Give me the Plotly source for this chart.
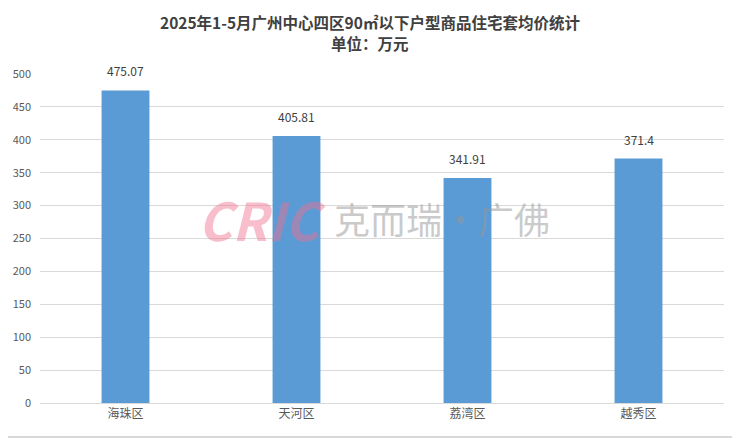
import plotly.graph_objects as go

districts = ["海珠区", "天河区", "荔湾区", "越秀区"]
avg_price = [475.07, 405.81, 341.91, 371.4]
value_labels = ["475.07", "405.81", "341.91", "371.4"]
y_ticks = [0, 50, 100, 150, 200, 250, 300, 350, 400, 450, 500]

FONT = "Noto Sans CJK SC"

# page is offset by the browser's default 8px body margin; figure sized to fit
W, H = 732, 431
L, R, T, B = 31.5, 15.5, 66, 36
PW, PH = W - L - R, H - T - B

fig = go.Figure(go.Bar(
    x=districts, y=avg_price,
    marker=dict(color="#5B9BD5", line=dict(width=0)),
    width=0.28,
    hoverinfo="x+y",
))

annotations = []
for d, v, lab in zip(districts, avg_price, value_labels):
    annotations.append(dict(
        x=d, y=v, xref="x", yref="y", text=lab, showarrow=False,
        xanchor="center", yanchor="bottom", yshift=9,
        font=dict(family=FONT, size=12, color="#404040"),
    ))

def px(xp):
    return (xp - L) / PW

def py(yp):
    return 1 - (yp - T) / PH

annotations += [
    dict(xref="paper", yref="paper", x=px(361.5), y=py(13.5),
         xanchor="center", yanchor="middle", showarrow=False,
         text="<b>2025年1-5月广州中心四区90㎡以下户型商品住宅套均价统计</b>",
         font=dict(family=FONT, size=15.5, color="#404040")),
    dict(xref="paper", yref="paper", x=px(361.5), y=py(35),
         xanchor="center", yanchor="middle", showarrow=False,
         text="<b>单位：万元</b>",
         font=dict(family=FONT, size=15.5, color="#404040")),
    dict(xref="paper", yref="paper", x=px(254), y=py(210),
         xanchor="center", yanchor="middle", showarrow=False,
         text="<b><i>CRIC</i></b>",
         font=dict(family=FONT, size=52, color="rgba(240,110,140,0.45)")),
    dict(xref="paper", yref="paper", x=px(434), y=py(210),
         xanchor="center", yanchor="middle", showarrow=False,
         text="克而瑞·广佛",
         font=dict(family=FONT, size=36, color="rgba(150,150,150,0.5)")),
]

fig.update_layout(
    width=W, height=H,
    margin=dict(l=L, r=R, t=T, b=B, autoexpand=False),
    paper_bgcolor="white", plot_bgcolor="white",
    font=dict(family=FONT, size=12, color="#595959"),
    showlegend=False,
    xaxis=dict(
        showline=True, linecolor="#D9D9D9", linewidth=1,
        ticks="", tickfont=dict(family=FONT, size=12, color="#595959"),
    ),
    yaxis=dict(
        range=[0, 500], tickvals=y_ticks,
        showgrid=True, gridcolor="#D9D9D9", gridwidth=1,
        zeroline=False, showline=False, ticks="",
        tickfont=dict(family=FONT, size=11, color="#595959"),
        ticklabelstandoff=8,
    ),
    shapes=[dict(type="rect", xref="paper", yref="paper",
                 x0=px(-100), x1=px(730), y0=py(429), y1=py(-100),
                 line=dict(color="#D9D9D9", width=2), layer="below")],
    annotations=annotations,
)

fig.write_html("out.html")
